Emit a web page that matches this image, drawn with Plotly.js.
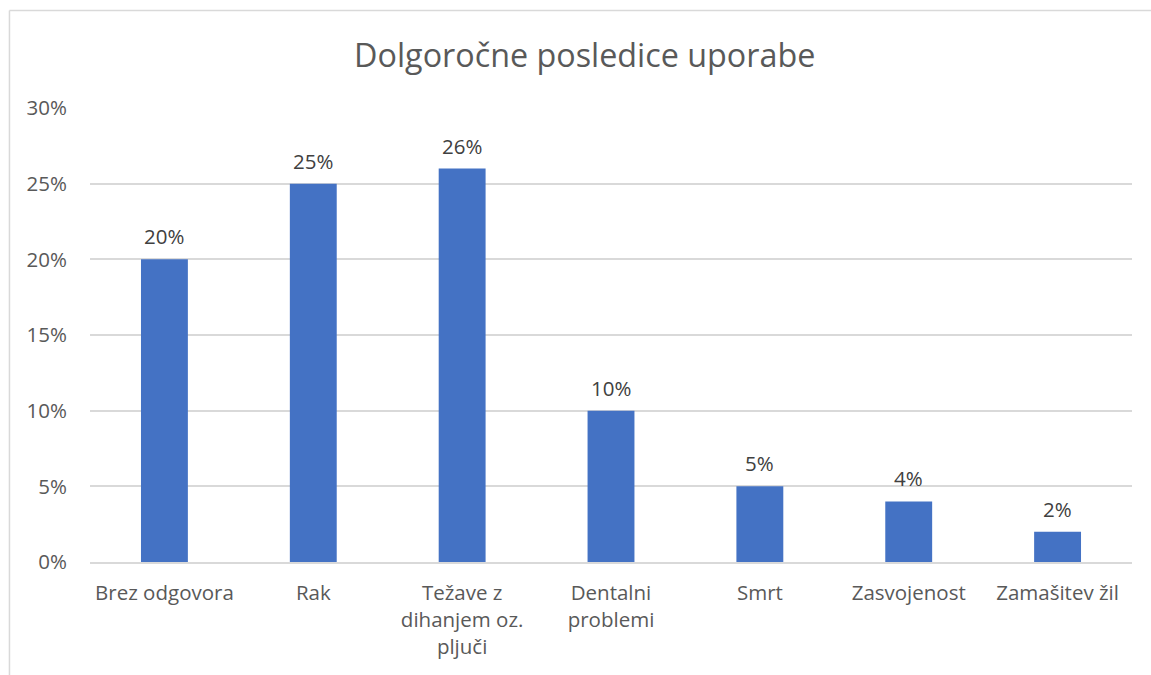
<!DOCTYPE html>
<html>
<head>
<meta charset="utf-8">
<script src="https://cdn.plot.ly/plotly-3.0.1.min.js"></script>
<style>
  body { margin: 0; background: #fff; }
  #chart { width: 1151px; height: 675px; }
</style>
</head>
<body>
<div id="chart"></div>
<script>
// categories and shares
var categories = ["Brez odgovora", "Rak", "Težave z<br>dihanjem oz.<br>pljuči", "Dentalni<br>problemi", "Smrt", "Zasvojenost", "Zamašitev žil"];
var shares = [0.20, 0.25, 0.26, 0.10, 0.05, 0.04, 0.02];
var labels = ["20%", "25%", "26%", "10%", "5%", "4%", "2%"];
var yTicks = [0, 0.05, 0.10, 0.15, 0.20, 0.25, 0.30];

var textFont = "'Open Sans', Lato, sans-serif";

var trace = {
  type: "bar",
  x: categories,
  y: shares,
  marker: { color: "#4472C4" },
  hoverinfo: "skip"
};

// value labels above the bars
var notes = [];
for (let i = 0; i < categories.length; i++) {
  notes.push({
    x: categories[i], y: shares[i], text: labels[i],
    showarrow: false, yanchor: "bottom", yshift: 7,
    font: { family: textFont, size: 20.5, color: "#404040" }
  });
}

var layout = {
  width: 1151, height: 675,
  margin: { l: 90, r: 19, t: 108, b: 113 },
  paper_bgcolor: "#fff", plot_bgcolor: "#fff",
  title: {
    text: "Dolgoročne posledice uporabe",
    font: { family: textFont, size: 32.3, color: "#595959" },
    x: 0.508, xanchor: "center", y: 0.918, yanchor: "middle"
  },
  bargap: 0.685,
  showlegend: false,
  xaxis: {
    tickfont: { family: textFont, size: 20.5, color: "#595959" },
    showline: true, linecolor: "#d9d9d9", linewidth: 1.5,
    ticks: "", ticklabelstandoff: 12, automargin: false
  },
  yaxis: {
    range: [0, 0.30],
    tickvals: yTicks, tickformat: ".0%",
    tickfont: { family: textFont, size: 20.5, color: "#595959" },
    gridcolor: "#d9d9d9", gridwidth: 1.5,
    zeroline: false, showline: false,
    ticks: "", ticklabelstandoff: 22, automargin: false
  },
  annotations: notes,
  shapes: [
    { type: "line", xref: "paper", yref: "paper", x0: -0.0773, x1: -0.0773, y0: -0.25, y1: 1.2148,
      line: { color: "#d9d9d9", width: 1.5 } },
    { type: "line", xref: "paper", yref: "paper", x0: -0.0773, x1: 1.02, y0: 1.2148, y1: 1.2148,
      line: { color: "#d9d9d9", width: 1.5 } }
  ]
};

Plotly.newPlot("chart", [trace], layout, { displayModeBar: false, responsive: false });
</script>
</body>
</html>
